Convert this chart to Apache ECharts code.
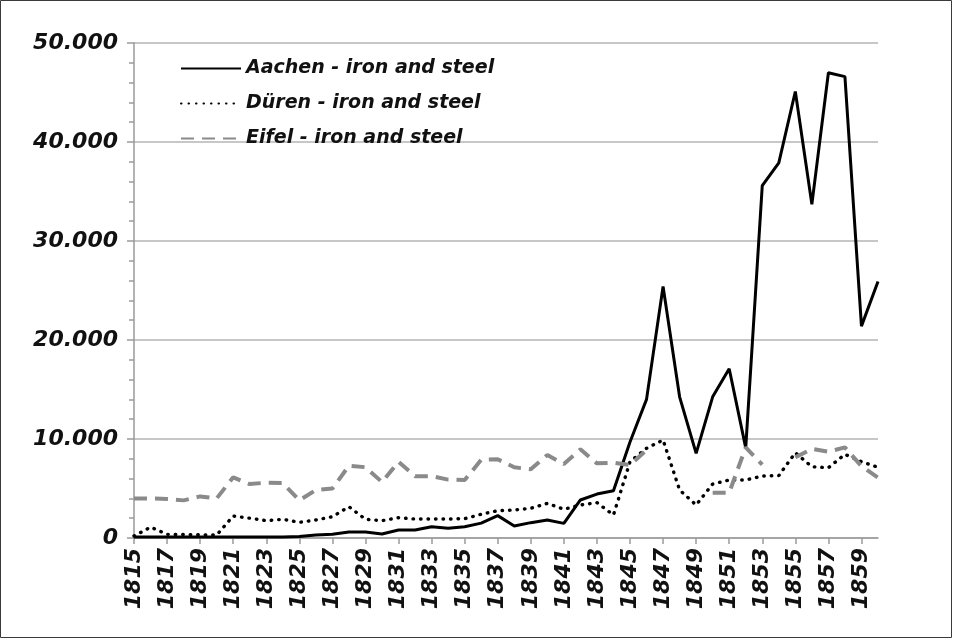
<!DOCTYPE html>
<html>
<head>
<meta charset="utf-8">
<script src="https://cdn.jsdelivr.net/npm/echarts@6/dist/echarts.min.js"></script>
<style>
  html, body { margin: 0; padding: 0; background: #fff; }
  #chart { width: 953px; height: 639px; }
</style>
</head>
<body>
<div id="chart"></div>
<script>
const years = []
for (let y = 1815; y <= 1860; y++) years.push(String(y))

const aachen = [
  100, 100, 100, 100, 100, 100, 100, 100, 100, 100,
  150, 300, 370, 600, 600, 400, 800, 800, 1140, 980,
  1140, 1500, 2260, 1210, 1550, 1820, 1480, 3840, 4440, 4780,
  9700, 14000, 25400, 14260, 8550, 14260, 17100, 9100, 35600, 37900,
  45100, 33700, 47000, 46600, 21400, 25900,
]
const dueren = [
  200, 1100, 370, 350, 320, 300, 2220, 2000, 1750, 1890,
  1580, 1820, 2150, 3160, 1890, 1750, 2050, 1920, 1920, 1920,
  1950, 2400, 2760, 2830, 3000, 3500, 2900, 3330, 3570, 2320,
  7700, 9060, 9900, 4850, 3330, 5450, 5860, 5860, 6260, 6300,
  8620, 7200, 7100, 8450, 7710, 7140,
]
const eifel = [
  4000, 4000, 3950, 3800, 4200, 4000, 6130, 5450, 5590, 5550,
  3800, 4850, 5000, 7300, 7150, 5650, 7700, 6250, 6250, 5900,
  5850, 7900, 7950, 7140, 6940, 8380, 7480, 8960, 7540, 7610,
  7370, 8900, null, null, null, 4580, 4580, 9150, 7400, null,
  8150, 9000, 8720, 9150, 7250, 6100,
]
const seriesNames = ['Aachen - iron and steel', 'Düren - iron and steel', 'Eifel - iron and steel']

const font = {
  fontFamily: 'DejaVu Sans, sans-serif',
  fontWeight: 'bold',
  fontStyle: 'italic',
  fontSize: 22,
  color: '#111',
}

const chart = echarts.init(document.getElementById('chart'))

const option = {
  animation: false,
  backgroundColor: '#fff',
  graphic: [{
    type: 'rect',
    shape: { x: 0.5, y: 0.5, width: 951, height: 637 },
    style: { fill: 'none', stroke: '#3a3a3a', lineWidth: 1 },
    silent: true,
  }],
  grid: {
    left: 134,
    right: 75,
    top: 43,
    bottom: 101,
  },
  legend: {
    orient: 'vertical',
    left: 180,
    top: 59,
    padding: 0,
    itemGap: 16,
    itemWidth: 60,
    itemHeight: 21,
    itemStyle: { opacity: 0 },
    textStyle: { ...font, fontSize: 19 },
    data: seriesNames,
  },
  xAxis: {
    type: 'category',
    boundaryGap: false,
    data: years,
    axisLine: { lineStyle: { color: '#9a9a9a', width: 1.5 } },
    axisTick: { interval: 1, length: 6, lineStyle: { color: '#9a9a9a', width: 1.5 } },
    axisLabel: { ...font, interval: 1, rotate: 90, margin: 10 },
    splitLine: { show: false },
  },
  yAxis: {
    type: 'value',
    min: 0,
    max: 50000,
    interval: 10000,
    axisLine: { show: true, lineStyle: { color: '#9a9a9a', width: 1.5 } },
    axisTick: { show: true, length: 7, lineStyle: { color: '#9a9a9a', width: 1.5 } },
    minorTick: { show: true, splitNumber: 5, length: 5, lineStyle: { color: '#9a9a9a', width: 1.5 } },
    axisLabel: {
      ...font,
      margin: 16,
      formatter: v => (v === 0 ? '0' : String(v).replace(/\B(?=(\d{3})+(?!\d))/g, '.')),
    },
    splitLine: { lineStyle: { color: '#b4b4b4', width: 1.5 } },
  },
  series: [
    {
      name: seriesNames[0],
      type: 'line',
      data: aachen,
      symbol: 'none',
      color: '#000',
      lineStyle: { color: '#000', width: 3 },
      z: 2,
    },
    {
      name: seriesNames[1],
      type: 'line',
      data: dueren,
      symbol: 'none',
      color: '#000',
      lineStyle: { color: '#000', width: 3.4, type: [0.5, 7], cap: 'round' },
      z: 3,
    },
    {
      name: seriesNames[2],
      type: 'line',
      data: eifel,
      symbol: 'none',
      connectNulls: false,
      color: '#8a8a8a',
      lineStyle: { color: '#8a8a8a', width: 4, type: [13, 8] },
      z: 4,
    },
  ],
}

chart.setOption(option)
</script>
</body>
</html>
